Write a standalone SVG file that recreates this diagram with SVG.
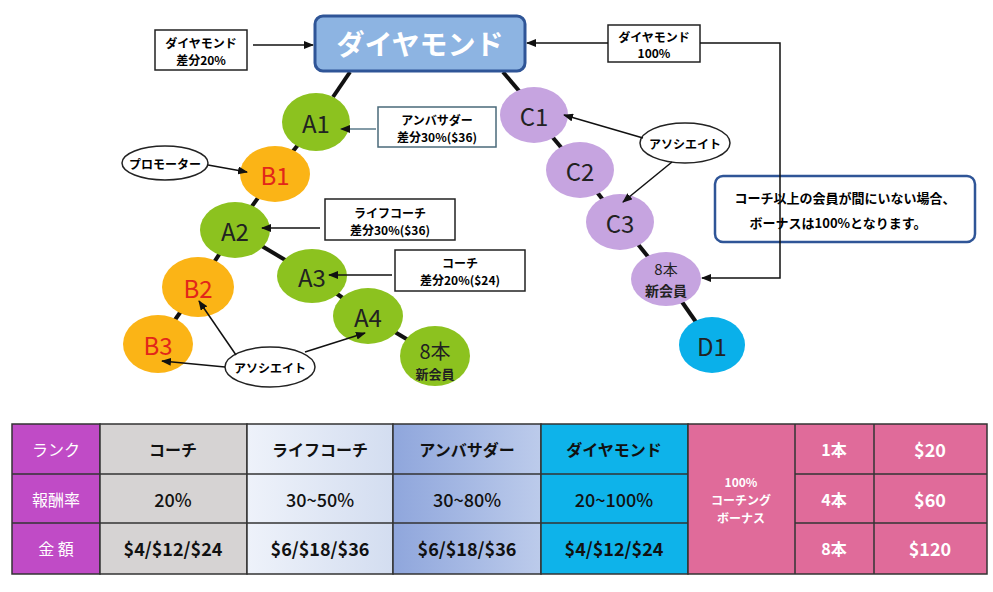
<svg xmlns="http://www.w3.org/2000/svg" width="993" height="592" viewBox="0 0 993 592">
<style>
text{font-family:"Noto Sans CJK JP","Liberation Sans",sans-serif;text-anchor:middle;dominant-baseline:central}
.lbl{fill:#fff;stroke:#222;stroke-width:1.5}
.lt{font-size:12px;font-weight:bold}
.g{fill:#8cc21f}.o{fill:#fbb416}.p{fill:#c6a4e0}
.nt{font-size:24px;fill:#222}
.ot{font-size:24px;fill:#e2261a}
.cl line,.cl path{stroke:#111;stroke-width:1.5;fill:none}
.tr line{stroke:#111;stroke-width:4}
.th{font-size:16px;font-weight:bold;fill:#111}
.tw{font-size:16px;font-weight:bold;fill:#fff}
</style>
<defs>
<marker id="ar" markerWidth="10" markerHeight="8" refX="9" refY="4" orient="auto" markerUnits="userSpaceOnUse"><path d="M0,0L10,4L0,8z" fill="#111"/></marker>
<linearGradient id="g1" x1="0" x2="1"><stop offset="0" stop-color="#eef2fa"/><stop offset="1" stop-color="#d3ddf0"/></linearGradient>
<linearGradient id="g2" x1="0" x2="1"><stop offset="0" stop-color="#8fa6dc"/><stop offset="1" stop-color="#bccbeb"/></linearGradient>
</defs>
<rect width="993" height="592" fill="#fff"/>
<g id="tree-links" class="tr">
<line x1="350" y1="72" x2="333" y2="97"/>
<line x1="503" y1="72" x2="520" y2="92"/>
<line x1="316" y1="122" x2="275" y2="174"/>
<line x1="275" y1="174" x2="235" y2="230"/>
<line x1="235" y1="230" x2="198" y2="287"/>
<line x1="198" y1="287" x2="158" y2="344"/>
<line x1="235" y1="230" x2="312" y2="276"/>
<line x1="312" y1="276" x2="368" y2="316"/>
<line x1="368" y1="316" x2="435" y2="356"/>
<line x1="534" y1="115" x2="580" y2="170"/>
<line x1="580" y1="170" x2="620" y2="222"/>
<line x1="620" y1="222" x2="666" y2="279"/>
<line x1="666" y1="279" x2="712" y2="345"/>
</g>
<g id="diamond"><rect x="315" y="16" width="210" height="55" rx="8" fill="#8db4e2" stroke="#2f5597" stroke-width="3"/><text x="420" y="43" font-size="28" fill="#fff" font-weight="bold">ダイヤモンド</text></g>
<g id="lblD"><rect class="lbl" x="155" y="30" width="92" height="40"/><text class="lt" x="201" y="42">ダイヤモンド</text><text class="lt" x="201" y="59">差分20%</text></g>
<g id="lblD100"><rect class="lbl" x="608" y="25" width="92" height="37"/><text class="lt" x="654" y="36">ダイヤモンド</text><text class="lt" x="654" y="52">100%</text></g>
<g id="lblAmb"><rect class="lbl" x="378" y="107" width="118" height="40" style="stroke:#4a6a7a"/><text class="lt" x="437" y="119">アンバサダー</text><text class="lt" x="437" y="136">差分30%($36)</text></g>
<g id="lblLife"><rect class="lbl" x="325" y="199" width="130" height="41"/><text class="lt" x="390" y="212">ライフコーチ</text><text class="lt" x="390" y="229">差分30%($36)</text></g>
<g id="lblCoach"><rect class="lbl" x="395" y="250" width="130" height="41"/><text class="lt" x="460" y="262">コーチ</text><text class="lt" x="460" y="279">差分20%($24)</text></g>
<g id="promoter"><ellipse cx="165" cy="163" rx="43" ry="17" class="lbl"/><text class="lt" x="165" y="163">プロモーター</text></g>
<g id="assocL"><ellipse cx="270" cy="367" rx="45" ry="20" class="lbl"/><text class="lt" x="270" y="367">アソシエイト</text></g>
<g id="assocR"><ellipse cx="685" cy="143" rx="45" ry="20" class="lbl"/><text class="lt" x="685" y="143">アソシエイト</text></g>
<g id="note"><rect x="715" y="176" width="260" height="66" rx="8" fill="#fff" stroke="#2f5597" stroke-width="2.5"/><text class="lt" x="845" y="197" style="font-size:13px">コーチ以上の会員が間にいない場合、</text><text class="lt" x="838" y="222" style="font-size:13px">ボーナスは100%となります。</text></g>
<g id="A1"><ellipse class="g" cx="316" cy="122" rx="34" ry="29"/><text class="nt" x="316" y="122">A1</text></g>
<g id="B1"><ellipse class="o" cx="275" cy="174" rx="35" ry="28"/><text class="ot" x="275" y="174">B1</text></g>
<g id="A2"><ellipse class="g" cx="235" cy="230" rx="35" ry="28"/><text class="nt" x="235" y="230">A2</text></g>
<g id="B2"><ellipse class="o" cx="198" cy="287" rx="36" ry="30"/><text class="ot" x="198" y="287">B2</text></g>
<g id="B3"><ellipse class="o" cx="158" cy="344" rx="35" ry="29"/><text class="ot" x="158" y="344">B3</text></g>
<g id="A3"><ellipse class="g" cx="312" cy="276" rx="35" ry="27"/><text class="nt" x="312" y="276">A3</text></g>
<g id="A4"><ellipse class="g" cx="368" cy="316" rx="35" ry="28"/><text class="nt" x="368" y="316">A4</text></g>
<g id="N8L"><ellipse class="g" cx="435" cy="356" rx="35" ry="30"/><text x="435" y="350" font-size="20" fill="#222">8本</text><text x="435" y="373" font-size="13" font-weight="bold" fill="#222">新会員</text></g>
<g id="C1"><ellipse class="p" cx="534" cy="115" rx="34" ry="28"/><text class="nt" x="534" y="115">C1</text></g>
<g id="C2"><ellipse class="p" cx="580" cy="170" rx="34" ry="28"/><text class="nt" x="580" y="170">C2</text></g>
<g id="C3"><ellipse class="p" cx="620" cy="222" rx="34" ry="28"/><text class="nt" x="620" y="222">C3</text></g>
<g id="N8R"><ellipse class="p" cx="666" cy="279" rx="35" ry="27"/><text x="666" y="268" font-size="15" fill="#222">8本</text><text x="666" y="290" font-size="14" font-weight="bold" fill="#222">新会員</text></g>
<g id="D1"><ellipse cx="712" cy="345" rx="33" ry="28" fill="#0ab0ea"/><text class="nt" x="712" y="345">D1</text></g>
<g id="connectors" class="cl">
<line x1="253" y1="45" x2="313" y2="45" marker-end="url(#ar)"/>
<line x1="608" y1="43" x2="527" y2="43" marker-end="url(#ar)"/>
<path d="M700,43H780V278H702" marker-end="url(#ar)"/>
<line x1="376" y1="129" x2="341" y2="129" marker-end="url(#ar)" style="stroke:#5a7a8a"/>
<line x1="208" y1="165" x2="247" y2="172" marker-end="url(#ar)"/>
<line x1="320" y1="228" x2="262" y2="228" marker-end="url(#ar)"/>
<line x1="392" y1="275" x2="329" y2="275" marker-end="url(#ar)"/>
<line x1="236" y1="355" x2="199" y2="301" marker-end="url(#ar)"/>
<line x1="225" y1="367" x2="162" y2="361" marker-end="url(#ar)"/>
<line x1="305" y1="352" x2="365" y2="333" marker-end="url(#ar)"/>
<line x1="643" y1="138" x2="564" y2="115" marker-end="url(#ar)"/>
<line x1="672" y1="162" x2="623" y2="202" marker-end="url(#ar)"/>
</g>
<g id="table" stroke="#333" stroke-width="1.5">
<rect x="12" y="424" width="88" height="150" fill="#c04bc6"/>
<rect x="100" y="424" width="147" height="150" fill="#d6d3d3"/>
<rect x="247" y="424" width="146" height="150" fill="url(#g1)"/>
<rect x="393" y="424" width="148" height="150" fill="url(#g2)"/>
<rect x="541" y="424" width="147" height="150" fill="#0eb3ea"/>
<rect x="688" y="424" width="299" height="150" fill="#e06b9a"/>
<line x1="12" y1="474" x2="688" y2="474"/><line x1="12" y1="523" x2="688" y2="523"/>
<line x1="795" y1="474" x2="987" y2="474"/><line x1="795" y1="523" x2="987" y2="523"/>
<line x1="795" y1="424" x2="795" y2="574"/><line x1="874" y1="424" x2="874" y2="574"/>
<g stroke="none">
<text class="tw" x="56" y="449" style="font-weight:normal">ランク</text>
<text class="tw" x="56" y="499" style="font-weight:normal">報酬率</text>
<text class="tw" x="56" y="548" style="font-weight:normal">金 額</text>
<text class="th" x="173" y="449">コーチ</text><text class="th" x="320" y="449">ライフコーチ</text><text class="th" x="467" y="449">アンバサダー</text><text class="th" x="614" y="449">ダイヤモンド</text>
<text class="th" x="173" y="499" style="font-size:18px;font-weight:500">20%</text><text class="th" x="320" y="499" style="font-size:18px;font-weight:500">30~50%</text><text class="th" x="467" y="499" style="font-size:18px;font-weight:500">30~80%</text><text class="th" x="614" y="499" style="font-size:18px;font-weight:500">20~100%</text>
<text class="th" x="173" y="548" style="font-size:18px">$4/$12/$24</text><text class="th" x="320" y="548" style="font-size:18px">$6/$18/$36</text><text class="th" x="467" y="548" style="font-size:18px">$6/$18/$36</text><text class="th" x="614" y="548" style="font-size:18px">$4/$12/$24</text>
<text class="tw" x="741" y="481" style="font-size:12px">100%</text><text class="tw" x="741" y="499" style="font-size:12px">コーチング</text><text class="tw" x="741" y="517" style="font-size:12px">ボーナス</text>
<text class="tw" x="834" y="449">1本</text><text class="tw" x="834" y="499">4本</text><text class="tw" x="834" y="548">8本</text>
<text class="tw" x="930" y="449" style="font-size:18px">$20</text><text class="tw" x="930" y="499" style="font-size:18px">$60</text><text class="tw" x="930" y="548" style="font-size:18px">$120</text>
</g>
</g>
</svg>
